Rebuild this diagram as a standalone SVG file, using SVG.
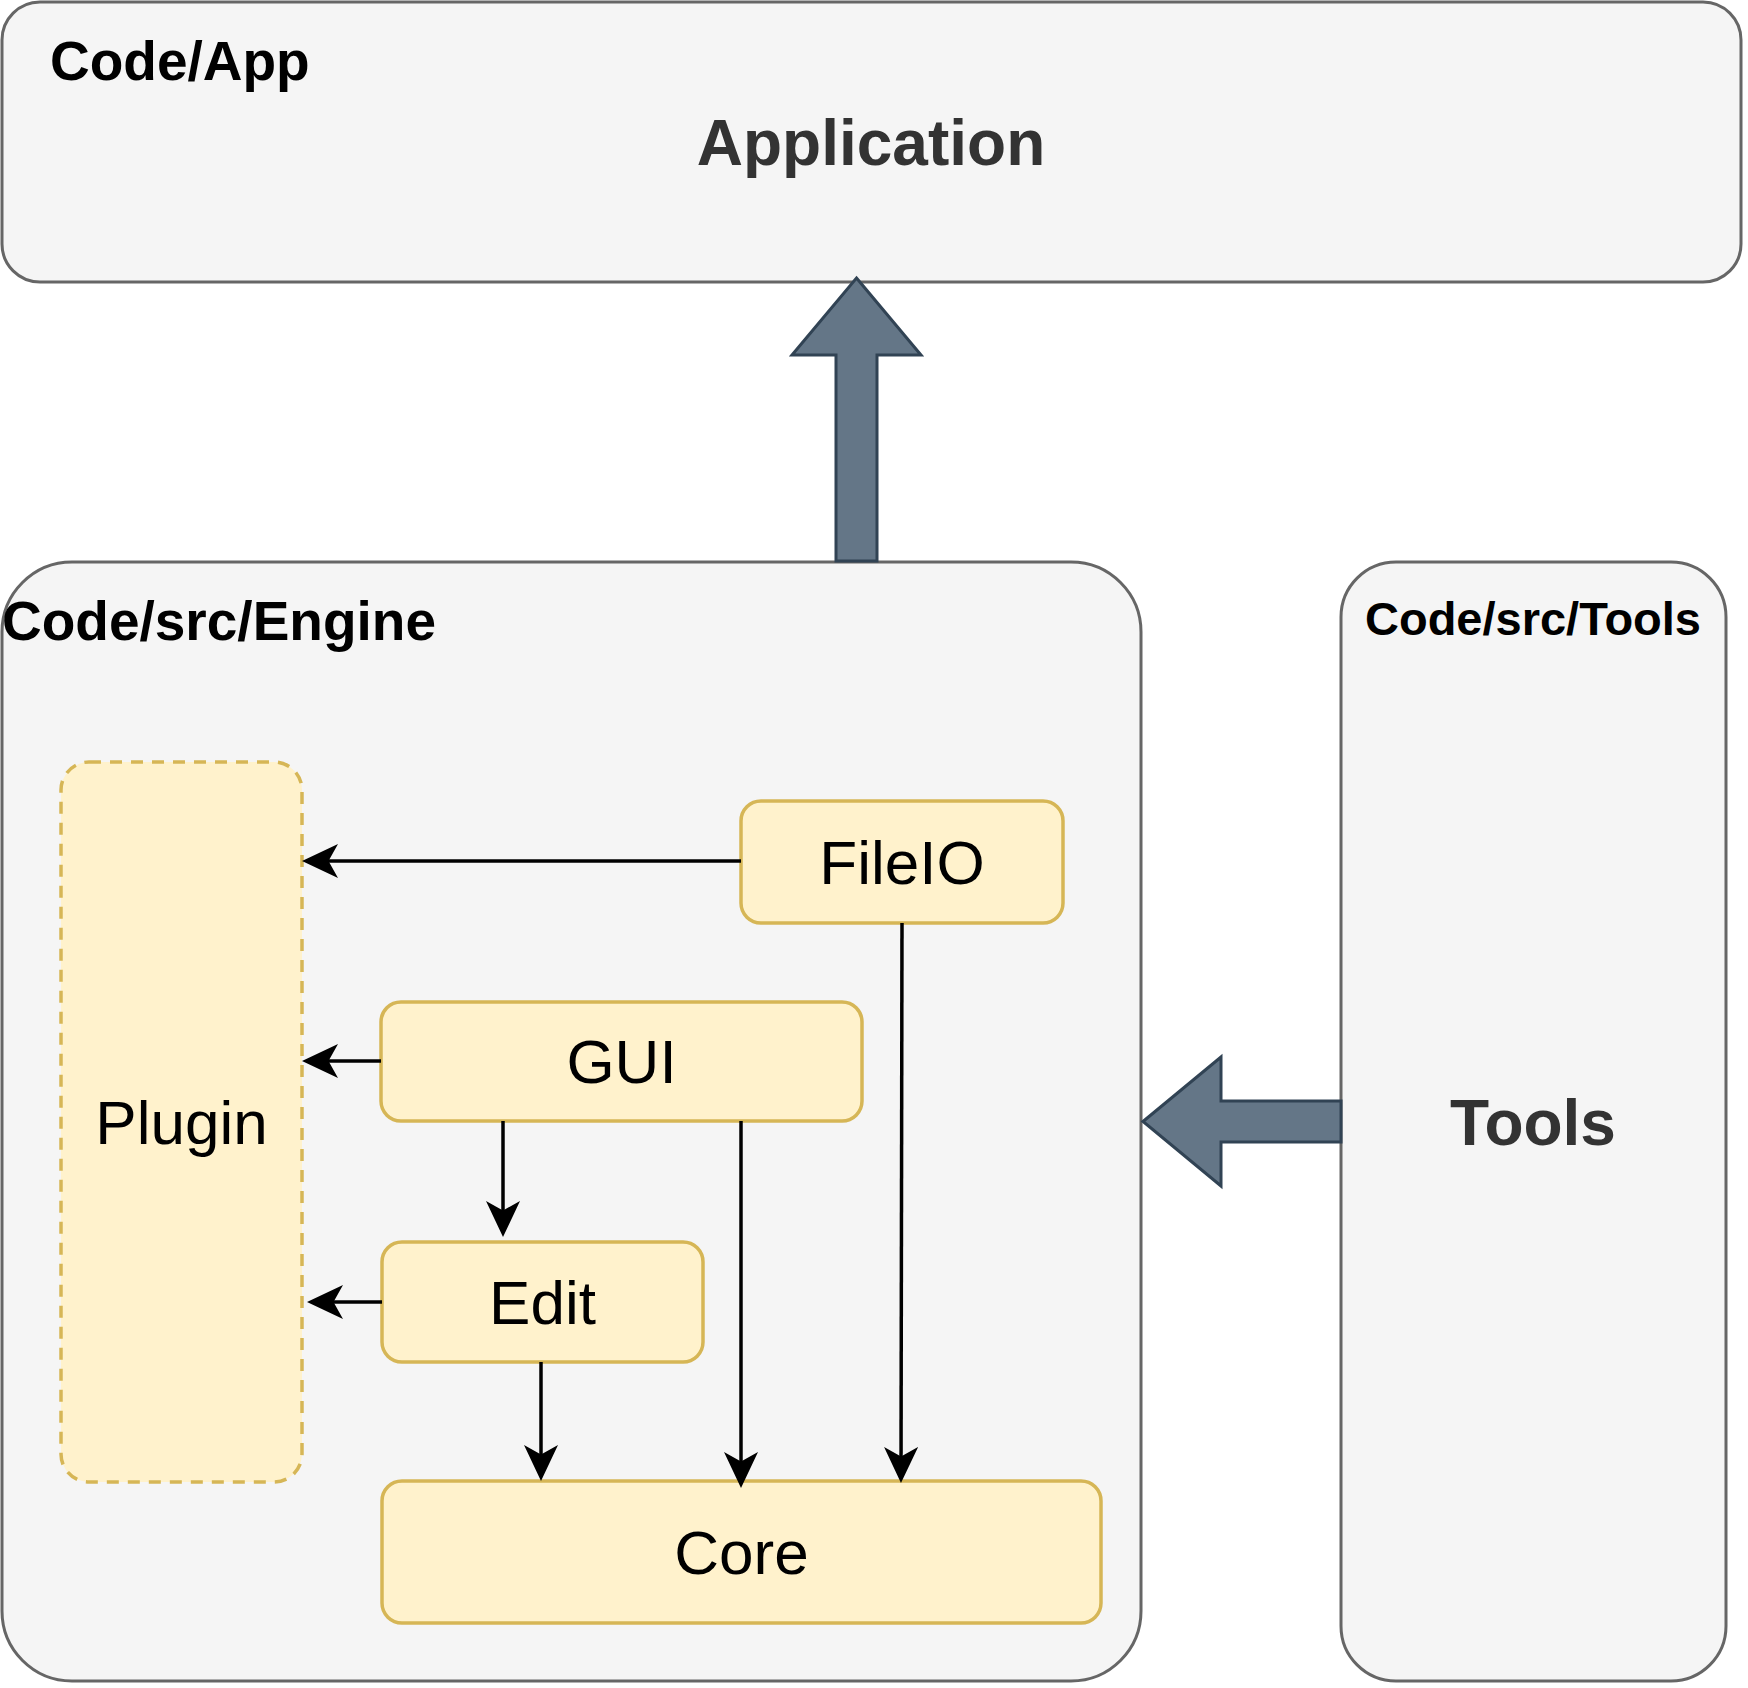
<svg xmlns="http://www.w3.org/2000/svg" width="1748" height="1688" viewBox="0 0 1748 1688">
  <style>
    .container { fill: #f5f5f5; stroke: #666666; stroke-width: 3; }
    .module { fill: #fff2cc; stroke: #d6b656; stroke-width: 3.5; }
    .dashed { stroke-dasharray: 12 9; }
    .fat { fill: #647687; stroke: #314354; stroke-width: 3; stroke-linejoin: miter; }
    .edge { fill: none; stroke: #000000; stroke-width: 3.5; }
    .hdr { font-family: "Liberation Sans", Arial, sans-serif; font-weight: bold; fill: #000000; }
    .big { font-family: "Liberation Sans", Arial, sans-serif; font-weight: bold; font-size: 64px; fill: #333333; text-anchor: middle; }
    .lbl { font-family: "Liberation Sans", Arial, sans-serif; font-size: 62px; fill: #000000; text-anchor: middle; }
  </style>
  <defs>
    <marker id="arr" markerUnits="userSpaceOnUse" viewBox="0 0 36 34" markerWidth="36" markerHeight="34" refX="27" refY="17" orient="auto">
      <path d="M36,17 L0,0 L9.5,17 L0,34 Z" fill="#000000"/>
    </marker>
  </defs>
  <rect width="1748" height="1688" fill="#ffffff"/>

  <g id="app">
    <rect class="container" x="2" y="2" width="1739" height="280" rx="38" ry="38"/>
    <text class="hdr" x="50" y="80" font-size="55">Code/App</text>
    <text class="big" x="871" y="165">Application</text>
  </g>

  <g id="engine">
    <rect class="container" x="2" y="562" width="1139" height="1119" rx="70" ry="70"/>
    <text class="hdr" x="2" y="640" font-size="55">Code/src/Engine</text>
  </g>

  <g id="tools">
    <rect class="container" x="1341" y="562" width="385" height="1119" rx="55" ry="55"/>
    <text class="hdr" x="1533" y="635" font-size="47" text-anchor="middle">Code/src/Tools</text>
    <text class="big" x="1533" y="1145">Tools</text>
  </g>

  <g id="plugin">
    <rect class="module dashed" x="61" y="762" width="241" height="720" rx="28" ry="28"/>
    <text class="lbl" x="181.5" y="1144">Plugin</text>
  </g>

  <g id="fileio">
    <rect class="module" x="741" y="801" width="322" height="122" rx="20" ry="20"/>
    <text class="lbl" x="902" y="884">FileIO</text>
  </g>

  <g id="gui">
    <rect class="module" x="381" y="1002" width="481" height="119" rx="20" ry="20"/>
    <text class="lbl" x="621.5" y="1083">GUI</text>
  </g>

  <g id="edit">
    <rect class="module" x="382" y="1242" width="321" height="120" rx="20" ry="20"/>
    <text class="lbl" x="542.5" y="1324">Edit</text>
  </g>

  <g id="core">
    <rect class="module" x="382" y="1481" width="719" height="142" rx="20" ry="20"/>
    <text class="lbl" x="741.5" y="1574">Core</text>
  </g>

  <g id="connectors">
    <polygon class="fat" points="856.5,278 921,355 877,355 877,561 836,561 836,355 792,355"/>
    <polygon class="fat" points="1143,1121.5 1221,1057 1221,1101 1341,1101 1341,1142 1221,1142 1221,1186"/>
    <line class="edge" x1="741" y1="861" x2="311" y2="861" marker-end="url(#arr)"/>
    <line class="edge" x1="381" y1="1061" x2="311" y2="1061" marker-end="url(#arr)"/>
    <line class="edge" x1="382" y1="1302" x2="316" y2="1302" marker-end="url(#arr)"/>
    <line class="edge" x1="503" y1="1121" x2="503" y2="1228" marker-end="url(#arr)"/>
    <line class="edge" x1="541" y1="1362" x2="541" y2="1472" marker-end="url(#arr)"/>
    <line class="edge" x1="741" y1="1121" x2="741" y2="1479" marker-end="url(#arr)"/>
    <line class="edge" x1="902" y1="923" x2="901" y2="1474" marker-end="url(#arr)"/>
  </g>
</svg>
